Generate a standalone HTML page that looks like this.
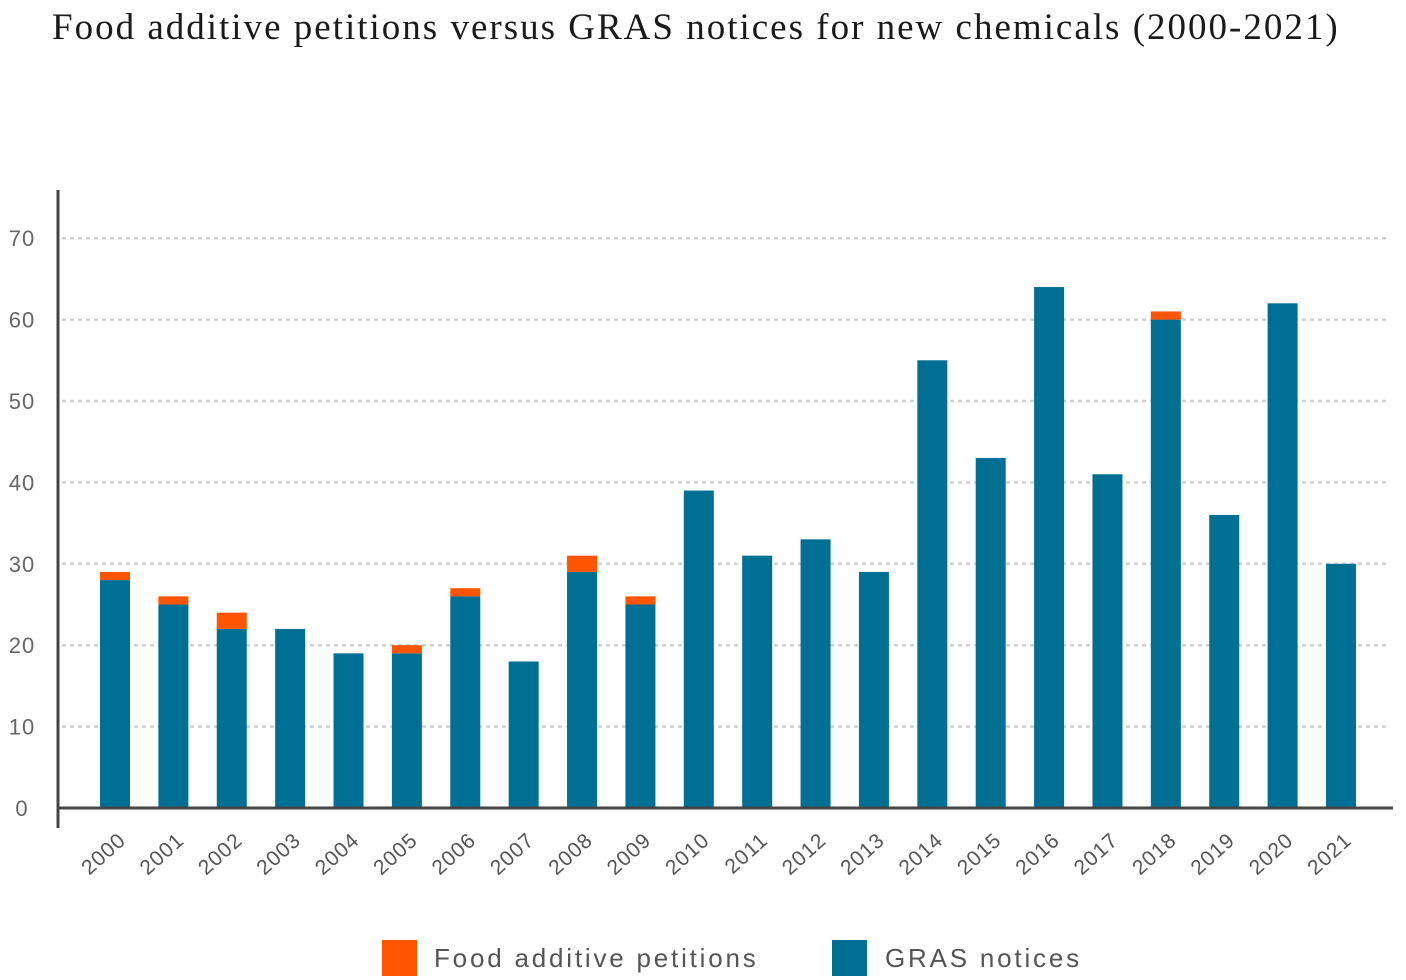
<!DOCTYPE html>
<html><head><meta charset="utf-8">
<style>
body{margin:0;background:#fff;width:1406px;height:980px;overflow:hidden;}
#title{position:absolute;left:52px;top:6px;font-family:"Liberation Serif",serif;font-size:37px;letter-spacing:2px;color:#1a1a1a;margin:0;font-weight:normal;white-space:nowrap;}
svg{position:absolute;left:0;top:0;}
</style></head>
<body>
<h1 id="title">Food additive petitions versus GRAS notices for new chemicals (2000-2021)</h1>
<svg id="chart" width="1406" height="980"></svg>
<script>
const categories=["2000","2001","2002","2003","2004","2005","2006","2007","2008","2009","2010","2011","2012","2013","2014","2015","2016","2017","2018","2019","2020","2021"];
const grasNotices=[28,25,22,22,19,19,26,18,29,25,39,31,33,29,55,43,64,41,60,36,62,30];
const foodAdditivePetitions=[1,1,2,0,0,1,1,0,2,1,0,0,0,0,0,0,0,0,1,0,0,0];
const yTicks=[0,10,20,30,40,50,60,70];
const NS="http://www.w3.org/2000/svg";
const svg=document.getElementById('chart');
const y0=808,pxPer=8.14,x0=115,step=58.38,bw=30;
const y=v=>y0-v*pxPer;
const x=i=>x0+i*step;
function mk(t,a){const e=document.createElementNS(NS,t);for(const k in a)e.setAttribute(k,a[k]);svg.appendChild(e);return e;}
yTicks.forEach(t=>{
  if(t>0){const g=mk('line',{x1:62,x2:1390,y1:y(t),y2:y(t),stroke:'#d0d0d0','stroke-width':2.5,'stroke-dasharray':'4,4'});
  
  }
  const l=mk('text',{x:22,y:y(t)+8,'font-family':'Liberation Sans,sans-serif','font-size':22,fill:'#666','text-anchor':'middle','letter-spacing':'1'});
  l.textContent=t;
  
  
});
categories.forEach((c,i)=>{
  const g=mk('rect',{x:x(i)-bw/2,y:y(grasNotices[i]),width:bw,height:grasNotices[i]*pxPer,fill:'#006f94'});
  
  
  if(foodAdditivePetitions[i]>0){
    const f=mk('rect',{x:x(i)-bw/2,y:y(grasNotices[i]+foodAdditivePetitions[i]),width:bw,height:foodAdditivePetitions[i]*pxPer,fill:'#ff5500'});
    
    
  }
  const t=mk('text',{x:x(i)+12,y:842,'font-family':'Liberation Sans,sans-serif','font-size':21,fill:'#555','text-anchor':'end','letter-spacing':'1',transform:`rotate(-42 ${x(i)+12} 842)`});
  t.textContent=c;
  
  
});
const ya=mk('line',{x1:58,x2:58,y1:190,y2:828,stroke:'#444','stroke-width':3});


const xa=mk('line',{x1:57,x2:1393,y1:808,y2:808,stroke:'#444','stroke-width':3});


const legend=[["Food additive petitions","#ff5500",382,434],["GRAS notices","#006f94",832,885]];
legend.forEach(([n,c,sx,tx])=>{
  const r=mk('rect',{x:sx,y:940,width:35,height:36,fill:c});
  
  
  const t=mk('text',{x:tx,y:967,'font-family':'Liberation Sans,sans-serif','font-size':26,fill:'#555','letter-spacing':'2.8'});
  t.textContent=n;
  
  
});
</script>
</body></html>
